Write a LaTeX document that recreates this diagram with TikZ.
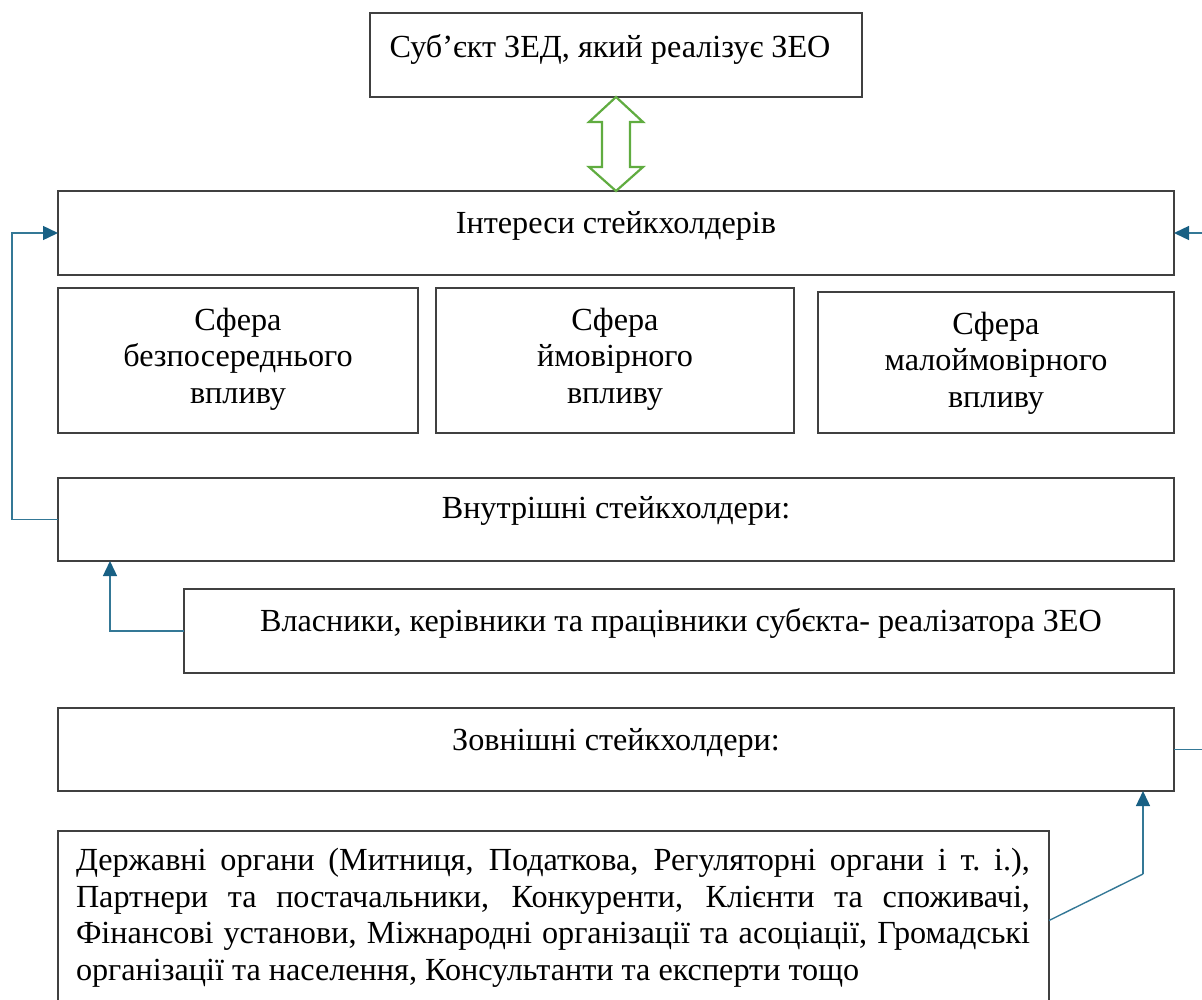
\documentclass[tikz,border=0pt]{standalone}
\usepackage{fontspec}
\setmainfont{Liberation Serif}
\usetikzlibrary{arrows.meta,calc}
\definecolor{boxline}{RGB}{64,64,64}
\definecolor{conn}{RGB}{52,120,150}
\definecolor{connhead}{RGB}{24,96,132}
\definecolor{arrgreen}{RGB}{96,172,64}
\begin{document}
\begin{tikzpicture}[x=1pt,y=-1pt,
  box/.style={draw=boxline,line width=1.4pt,inner sep=0pt,outer sep=0pt,rectangle},
  txt/.style={inner sep=0pt,font=\fontsize{32.2}{36.5}\selectfont,align=center},
  conn/.style={draw=conn,line width=1.4pt,-{Triangle[length=15pt,width=14pt,color=connhead]}},
  plain/.style={draw=conn,line width=1.4pt},
  dbl/.style={draw=arrgreen,fill=white,line width=2.2pt,line join=miter}]
\useasboundingbox (0,0) rectangle (1202,999);
\clip (0,0) rectangle (1202,999);
% boxes
\node[box,minimum width=492,minimum height=84] (top) at (616,55) {};
\node[box,minimum width=1116,minimum height=84] (int) at (616,233) {};
\node[box,minimum width=360,minimum height=145] (s1) at (238,360.5) {};
\node[box,minimum width=358,minimum height=145] (s2) at (615,360.5) {};
\node[box,minimum width=356,minimum height=141] (s3) at (996,362.5) {};
\node[box,minimum width=1116,minimum height=83] (vn) at (616,519.5) {};
\node[box,minimum width=990,minimum height=84] (vl) at (679,631) {};
\node[box,minimum width=1116,minimum height=83] (zv) at (616,749.5) {};
\node[box,minimum width=991,minimum height=179] (bt) at (553.5,920.5) {};
% texts
\node[txt] (ttop) at (610,49) {Суб’єкт ЗЕД, який реалізує ЗЕО};
\node[txt] (tint) at (616,226) {Інтереси стейкхолдерів};
\node[txt] (ts1) at (238,359) {Сфера\\безпосереднього\\впливу};
\node[txt] (ts2) at (615,359) {Сфера\\ймовірного\\впливу};
\node[txt] (ts3) at (996,363) {Сфера\\малоймовірного\\впливу};
\node[txt] (tvn) at (616,511) {Внутрішні стейкхолдери:};
\node[txt] (tvl) at (681,623) {Власники, керівники та працівники субєкта- реалізатора ЗЕО};
\node[txt] (tzv) at (616,743) {Зовнішні стейкхолдери:};
\node[txt,text width=954pt,align=justify] (tbt) at (553,918) {Державні органи (Митниця, Податкова, Регуляторні органи і т.~і.),\linebreak Партнери та постачальники, Конкуренти, Клієнти та споживачі,\linebreak Фінансові установи, Міжнародні організації та асоціації, Громадські\linebreak організації та населення, Консультанти та експерти тощо};
% green double arrow
\draw[dbl] (top.south) -- ++(27,25) -- ++(-13,0) -- ++(0,45) -- ++(13,0) -- (int.north)
  -- ++(-27,-24) -- ++(13,0) -- ++(0,-45) -- ++(-13,0) -- cycle;
% connectors
\draw[conn] (vn.west) -- ++(-46,0) |- (int.west);
\coordinate (vnin) at ($(vn.south west)+(52,0)$);
\draw[conn] (vl.west) -| (vnin);
\coordinate (kink) at (1143,874);
\coordinate (zvin) at ($(zv.south east)+(-31,0)$);
\draw[plain] (bt.east) -- (kink);
\draw[conn] (kink) -- (zvin);
\draw[conn] (zv.east) -- ++(40,0) |- (int.east);
\end{tikzpicture}
\end{document}
